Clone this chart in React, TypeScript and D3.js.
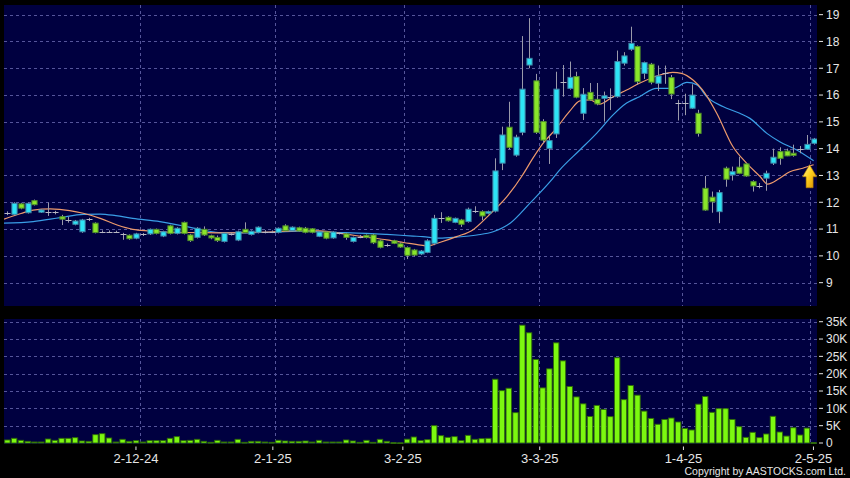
import React, { useEffect } from 'react';
import * as d3 from 'd3';

const W = 850;
const H = 478;

// ---- data ----
const opens = [
  11.59, 11.55, 11.94, 11.61, 12.06, 11.63, 11.63, 11.62, 11.46, 11.34,
  11.18, 10.90, 11.37, 11.22, 10.90, 10.90, 10.90, 10.80, 10.77, 10.66,
  10.80, 10.82, 10.99, 10.74, 11.12, 10.84, 11.25, 10.78, 10.69, 10.99,
  10.75, 10.69, 10.54, 10.80, 10.59, 10.99, 10.80, 10.88, 10.90, 10.90,
  10.88, 11.12, 10.94, 11.05, 11.03, 11.01, 10.73, 10.89, 10.67, 10.84,
  10.82, 10.54, 10.72, 10.77, 10.78, 10.56, 10.40, 10.56, 10.45, 10.31,
  10.22, 10.07, 10.13, 10.47, 11.43, 11.44, 11.25, 11.34, 11.28, 11.69,
  11.65, 11.59, 11.67, 13.46, 14.80, 13.76, 14.61, 17.12, 16.53, 15.01,
  14.01, 14.55, 16.50, 16.25, 16.69, 15.32, 16.10, 15.84, 15.88, 15.94,
  15.94, 17.19, 17.71, 17.81, 16.81, 17.15, 16.44, 16.81, 16.65, 15.72,
  15.72, 15.51, 15.32, 12.52, 12.19, 11.65, 13.27, 13.02, 13.31, 13.43,
  12.77, 12.62, 12.90, 13.46, 13.89, 13.91, 13.83, 13.99, 13.98, 14.20,
];
const highs = [
  11.66, 12.00, 11.98, 11.99, 12.10, 11.75, 11.99, 11.68, 11.53, 11.46,
  11.34, 11.38, 11.42, 11.25, 10.95, 10.95, 10.94, 10.86, 10.80, 10.86,
  10.85, 11.02, 11.02, 10.94, 11.16, 11.07, 11.28, 10.82, 11.07, 11.10,
  10.79, 10.76, 10.88, 10.85, 10.94, 11.25, 10.95, 11.10, 10.96, 10.95,
  11.06, 11.18, 11.10, 11.09, 11.08, 11.04, 10.92, 10.92, 10.92, 10.88,
  10.86, 10.72, 10.78, 10.80, 10.82, 10.60, 10.46, 10.60, 10.50, 10.35,
  10.26, 10.22, 10.62, 11.53, 11.63, 11.48, 11.43, 11.38, 11.80, 11.85,
  11.70, 11.69, 13.64, 14.82, 15.75, 14.52, 18.20, 18.87, 16.79, 15.10,
  14.51, 16.87, 17.12, 17.25, 16.87, 16.26, 16.45, 16.45, 16.13, 16.25,
  17.66, 17.60, 18.55, 17.85, 17.25, 17.20, 17.10, 17.10, 16.75, 15.82,
  16.05, 16.40, 15.45, 12.98, 12.40, 12.46, 13.33, 13.33, 13.70, 13.47,
  12.82, 12.72, 13.18, 14.00, 14.05, 14.00, 14.15, 14.10, 14.51, 14.40,
];
const lows = [
  11.52, 11.50, 11.74, 11.58, 11.88, 11.60, 11.49, 11.55, 11.15, 11.24,
  11.14, 10.86, 11.30, 10.84, 10.85, 10.86, 10.86, 10.60, 10.60, 10.62,
  10.74, 10.78, 10.80, 10.70, 10.80, 10.80, 10.80, 10.52, 10.65, 10.74,
  10.62, 10.52, 10.50, 10.76, 10.55, 10.85, 10.76, 10.84, 10.84, 10.85,
  10.84, 10.90, 10.90, 10.90, 10.84, 10.84, 10.70, 10.62, 10.64, 10.80,
  10.60, 10.50, 10.66, 10.65, 10.44, 10.28, 10.34, 10.44, 10.30, 9.88,
  9.98, 10.03, 10.10, 10.40, 11.23, 11.28, 11.22, 11.08, 11.24, 11.60,
  11.33, 11.55, 11.62, 13.20, 13.98, 13.70, 14.50, 17.00, 14.55, 14.20,
  13.43, 14.40, 15.94, 16.20, 15.88, 15.07, 15.78, 15.62, 15.01, 15.44,
  15.90, 17.10, 17.65, 16.38, 16.60, 16.40, 16.15, 16.42, 15.85, 15.05,
  15.25, 15.48, 14.45, 11.68, 11.61, 11.22, 12.58, 12.81, 13.05, 12.95,
  12.40, 12.52, 12.43, 13.39, 13.40, 13.72, 13.70, 13.83, 13.96, 14.15,
];
const closes = [
  11.59, 11.96, 11.78, 11.96, 11.91, 11.71, 11.63, 11.62, 11.37, 11.34,
  11.30, 11.34, 11.37, 10.87, 10.90, 10.90, 10.90, 10.80, 10.64, 10.82,
  10.80, 10.99, 10.84, 10.90, 10.84, 11.03, 10.84, 10.57, 11.03, 10.78,
  10.67, 10.57, 10.84, 10.80, 10.90, 10.87, 10.92, 11.07, 10.90, 10.90,
  11.03, 10.94, 11.07, 10.93, 10.88, 10.88, 10.89, 10.66, 10.89, 10.84,
  10.69, 10.69, 10.72, 10.69, 10.49, 10.32, 10.40, 10.47, 10.33, 10.02,
  10.03, 10.18, 10.56, 11.40, 11.43, 11.31, 11.40, 11.18, 11.74, 11.69,
  11.49, 11.65, 13.17, 14.51, 14.05, 14.43, 16.22, 17.37, 14.61, 14.32,
  14.30, 16.22, 16.50, 16.66, 15.92, 16.03, 15.82, 15.67, 15.97, 15.94,
  17.25, 17.46, 17.93, 16.50, 17.21, 16.48, 16.71, 16.81, 16.04, 15.72,
  15.72, 16.00, 14.57, 11.71, 12.02, 12.36, 12.86, 13.14, 13.08, 12.98,
  12.61, 12.62, 13.08, 13.68, 13.64, 13.73, 13.75, 13.99, 14.16, 14.36,
];
// volume in thousands of shares
const volumes = [
  0.87, 1.35, 0.77, 0.48, 0.29, 0.29, 1.15, 0.77, 1.35, 1.35,
  1.54, 0.58, 0.48, 2.40, 2.69, 1.44, 0.29, 1.06, 0.48, 0.67,
  0.29, 0.67, 0.67, 0.67, 1.35, 1.83, 0.67, 0.77, 1.06, 0.48,
  0.20, 0.77, 0.29, 0.29, 1.06, 0.20, 0.48, 0.48, 0.29, 0.20,
  0.77, 0.58, 0.48, 0.48, 0.58, 0.29, 0.77, 0.29, 0.29, 0.29,
  0.87, 0.58, 0.20, 0.77, 0.20, 1.06, 0.48, 0.10, 0.05, 1.10,
  1.73, 0.67, 0.96, 5.0, 2.11, 1.63, 1.83, 0.67, 2.21, 1.06,
  1.25, 1.35, 18.4, 15.1, 15.8, 8.75, 34.0, 31.8, 24.1, 15.9,
  21.4, 28.9, 23.7, 16.3, 13.3, 11.3, 7.65, 10.85, 9.7, 7.6,
  24.6, 12.5, 16.6, 13.8, 9.2, 7.1, 5.4, 6.8, 7.2, 6.06,
  4.2, 3.75, 11.2, 13.4, 8.85, 9.9, 9.9, 6.8, 4.7, 1.63,
  3.08, 1.54, 2.6, 7.7, 3.17, 2.0, 4.4, 2.3, 4.3, 0.1,
];
const dateTickIndex = [20, 40, 59, 79, 100, 119];
const dateTickLabels = ['2-12-24', '2-1-25', '3-2-25', '3-3-25', '1-4-25', '2-5-25'];
const priceTicks = [9, 10, 11, 12, 13, 14, 15, 16, 17, 18, 19];
const volumeTicks = [0, 5, 10, 15, 20, 25, 30, 35];
const volumeTickLabels = ['0', '5K', '10K', '15K', '20K', '25K', '30K', '35K'];

// moving averages (candle index, price)
const ma10Index = [-0.5, 2, 3.8, 6.3, 9.2, 11.2, 13.7, 16.2, 18.5, 21, 24, 28, 31.5, 35, 38.5, 43, 46, 48, 50.5, 53, 56, 58.5, 61, 62, 63.8, 66.3, 68.7, 71.2, 73.7, 76, 77.5, 79, 81, 83, 84.5, 86, 87.4, 89.4, 91.4, 93.3, 96.3, 98.2, 99.5, 101.2, 102.6, 104.7, 107.1, 109.1, 111.1, 112.2, 114, 115.5, 117.4, 119];
const ma10Values = [11.37, 11.58, 11.71, 11.75, 11.69, 11.59, 11.40, 11.15, 10.99, 10.93, 10.88, 10.87, 10.86, 10.87, 10.89, 10.94, 10.93, 10.88, 10.79, 10.70, 10.60, 10.50, 10.40, 10.37, 10.50, 10.72, 10.97, 11.55, 12.20, 13.00, 13.62, 14.18, 14.75, 15.40, 15.78, 15.82, 15.66, 15.94, 16.19, 16.44, 16.75, 16.85, 16.81, 16.56, 16.19, 15.32, 14.07, 13.46, 12.96, 12.68, 12.90, 13.14, 13.27, 13.40];
const ma20Index = [-0.5, 3.8, 7.8, 11.2, 13.7, 16, 18.5, 22.5, 26.5, 29.5, 31.5, 35, 38.3, 43.2, 48, 53, 56, 59.9, 61.3, 63.8, 66.3, 69.3, 71.7, 74.2, 77.1, 80.1, 81.5, 84.5, 87, 89.4, 91.4, 93.3, 95.8, 98.2, 100.3, 101.8, 103.2, 105.6, 108.1, 109.6, 112.1, 114, 116.5, 119];
const ma20Values = [11.22, 11.28, 11.43, 11.55, 11.56, 11.50, 11.40, 11.28, 11.09, 10.93, 10.87, 10.86, 10.88, 10.92, 10.88, 10.84, 10.80, 10.74, 10.72, 10.66, 10.70, 10.78, 10.90, 11.22, 11.96, 12.77, 13.20, 13.95, 14.58, 15.26, 15.70, 15.94, 16.25, 16.25, 16.47, 16.38, 15.94, 15.57, 15.32, 15.13, 14.57, 14.26, 13.95, 13.55];

// ---- layout ----
const plotLeft = 4;
const plotRight = 817;
const priceTop = 5;
const priceBottom = 306;
const volTop = 319;
const volBottom = 444;

const BG = '#000000';
const PANEL = '#000040';
const GRID = '#55559a';
const UP_FILL = '#2de4f6';
const UP_STROKE = '#3f86a8';
const DN_FILL = '#8ae62a';
const DN_STROKE = '#4f8d2c';
const WICK = '#9a9aaa';
const DOJI = '#b8b8c4';
const VOL_FILL = '#7cf810';
const VOL_STROKE = '#2f6c08';
const MA10_COLOR = '#ee9a6c';
const MA20_COLOR = '#3a9ee6';
const TEXT = '#e6e6e6';
const FONT = '"Liberation Sans", Arial, sans-serif';

export default function App() {
  useEffect(() => {
    document.body.style.margin = '0';
    document.body.style.background = '#000';
  }, []);

  const n = closes.length;
  const idx = d3.range(n);
  const x = d3.scaleBand<number>().domain(idx).range([plotLeft, plotRight]).padding(0);
  const bw = x.bandwidth();
  const xc = d3.scaleLinear().domain([0, n - 1]).range([(x(0) as number) + bw / 2, (x(n - 1) as number) + bw / 2]);
  // axis-label positions follow a slightly wider band
  const xLabel = d3.scaleBand<number>().domain(idx).range([-0.9, 820.3]).padding(0);

  const yP = d3.scaleLinear().domain([8.13, 19.36]).range([priceBottom, priceTop]);
  const yV = d3.scaleLinear().domain([0, 35.78]).range([443, volTop]);

  const line10 = d3
    .line<number>()
    .x((_, i) => xc(ma10Index[i]))
    .y((d) => yP(d))
    .curve(d3.curveMonotoneX);
  const line20 = d3
    .line<number>()
    .x((_, i) => xc(ma20Index[i]))
    .y((d) => yP(d))
    .curve(d3.curveMonotoneX);

  const bodyW = 5.2;
  const volW = 5.4;

  const lastMa = ma10Values[ma10Values.length - 1];
  const ax = xc(n - 1) - 4;
  const ay = yP(lastMa);
  const arrowPath = `M${ax},${ay} L${ax + 7},${ay + 12} L${ax + 3.5},${ay + 12} L${ax + 3.5},${ay + 23} L${ax - 3.5},${ay + 23} L${ax - 3.5},${ay + 12} L${ax - 7},${ay + 12} Z`;

  return (
    <svg width={W} height={H} style={{ display: 'block', position: 'absolute', left: 0, top: 0 }} fontFamily={FONT}>
      <defs>
        <clipPath id="clipPrice">
          <rect x={plotLeft} y={priceTop} width={plotRight - plotLeft} height={priceBottom - priceTop} />
        </clipPath>
        <clipPath id="clipVol">
          <rect x={plotLeft} y={volTop} width={plotRight - plotLeft} height={volBottom - volTop} />
        </clipPath>
        <linearGradient id="arrowGrad" x1="0" y1="0" x2="1" y2="1">
          <stop offset="0%" stopColor="#fff7a0" />
          <stop offset="45%" stopColor="#ffd21e" />
          <stop offset="100%" stopColor="#d68a00" />
        </linearGradient>
      </defs>
      <rect x={0} y={0} width={W} height={H} fill={BG} />
      <rect x={plotLeft} y={priceTop} width={plotRight - plotLeft} height={priceBottom - priceTop} fill={PANEL} />
      <rect x={plotLeft} y={volTop} width={plotRight - plotLeft} height={volBottom - volTop} fill={PANEL} />

      {/* price grid */}
      <g stroke={GRID} strokeWidth={1} strokeDasharray="3,3" shapeRendering="crispEdges">
        {priceTicks.map((t) => (
          <line key={'pg' + t} x1={plotLeft} x2={plotRight} y1={Math.round(yP(t)) + 0.5} y2={Math.round(yP(t)) + 0.5} />
        ))}
        {dateTickIndex.map((i) => (
          <line key={'vg' + i} x1={Math.round(x(i) as number) + 0.5} x2={Math.round(x(i) as number) + 0.5} y1={priceTop} y2={priceBottom} />
        ))}
        {volumeTicks.filter((t) => t > 0).map((t) => (
          <line key={'volg' + t} x1={plotLeft} x2={plotRight} y1={Math.round(yV(t)) + 0.5} y2={Math.round(yV(t)) + 0.5} />
        ))}
        {dateTickIndex.map((i) => (
          <line key={'vvg' + i} x1={Math.round(x(i) as number) + 0.5} x2={Math.round(x(i) as number) + 0.5} y1={volTop} y2={volBottom} />
        ))}
      </g>

      {/* moving averages */}
      <g clipPath="url(#clipPrice)" fill="none">
        <path d={line20(ma20Values) || ''} stroke={MA20_COLOR} strokeWidth={1.2} />
        <path d={line10(ma10Values) || ''} stroke={MA10_COLOR} strokeWidth={1.2} />
      </g>

      {/* candles */}
      <g clipPath="url(#clipPrice)">
        {idx.map((i) => {
          const cx = Math.round(xc(i)) + 0.5;
          const o = opens[i];
          const c = closes[i];
          const yTop = yP(Math.max(o, c));
          const yBot = yP(Math.min(o, c));
          return (
            <g key={'c' + i}>
              <line x1={cx} x2={cx} y1={yP(highs[i])} y2={yP(lows[i])} stroke={WICK} strokeWidth={1} />
              {o === c ? (
                <line x1={cx - 3} x2={cx + 3} y1={Math.round(yTop) + 0.5} y2={Math.round(yTop) + 0.5} stroke={DOJI} strokeWidth={1} />
              ) : (
                <rect
                  x={cx - bodyW / 2}
                  y={yTop}
                  width={bodyW}
                  height={Math.max(1.5, yBot - yTop)}
                  fill={c > o ? UP_FILL : DN_FILL}
                  stroke={c > o ? UP_STROKE : DN_STROKE}
                  strokeWidth={1}
                />
              )}
            </g>
          );
        })}
      </g>

      {/* arrow */}
      <path d={arrowPath} fill="url(#arrowGrad)" stroke="#b07800" strokeWidth={0.6} />

      {/* volume */}
      <g clipPath="url(#clipVol)">
        {idx.map((i) => {
          const cx = xc(i);
          const yTop = yV(volumes[i]);
          return (
            <rect
              key={'v' + i}
              x={cx - volW / 2}
              y={yTop}
              width={volW}
              height={Math.max(0.8, yV(0) - yTop)}
              fill={VOL_FILL}
              stroke={VOL_STROKE}
              strokeWidth={0.9}
            />
          );
        })}
      </g>

      {/* right price axis */}
      <g>
        {priceTicks.map((t) => (
          <g key={'pt' + t}>
            <line x1={819} x2={823} y1={yP(t)} y2={yP(t)} stroke={TEXT} strokeWidth={1} />
            <text x={826} y={yP(t)} dy="0.36em" fontSize={12} fill={TEXT}>
              {t}
            </text>
          </g>
        ))}
        {volumeTicks.map((t, k) => (
          <g key={'vt' + t}>
            <line x1={819} x2={823} y1={yV(t)} y2={yV(t)} stroke={TEXT} strokeWidth={1} />
            <text x={826} y={yV(t)} dy="0.36em" fontSize={12} fill={TEXT}>
              {volumeTickLabels[k]}
            </text>
          </g>
        ))}
      </g>

      {/* date axis */}
      <g>
        {dateTickIndex.map((i, k) => {
          const lx = (xLabel(i) as number);
          return (
            <g key={'dt' + i}>
              <line x1={lx} x2={lx} y1={446.5} y2={450} stroke={TEXT} strokeWidth={1} />
              <text x={lx} y={462.5} textAnchor="middle" fontSize={13} fill={TEXT}>
                {dateTickLabels[k]}
              </text>
            </g>
          );
        })}
      </g>

      <text x={846} y={475} textAnchor="end" fontSize={10.5} fill={TEXT}>
        Copyright by AASTOCKS.com Ltd.
      </text>
    </svg>
  );
}
